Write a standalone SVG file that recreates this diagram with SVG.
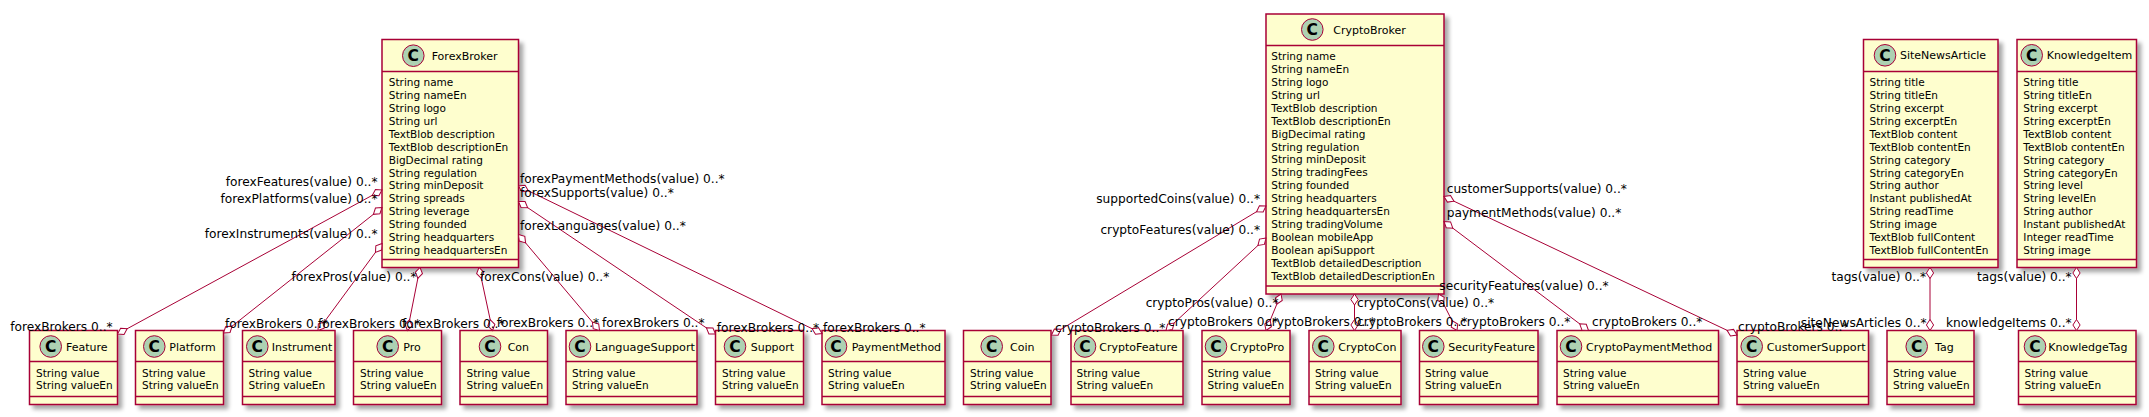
<svg xmlns="http://www.w3.org/2000/svg" width="2149" height="417" viewBox="0 0 2149 417">
<defs>
<style>
.box{fill:#FEFECE;stroke:#A80036;stroke-width:1.5;filter:url(#sh)}
.sep{stroke:#A80036;stroke-width:1.5}
.ci{fill:#ADD1B2;stroke:#A80036;stroke-width:1}
.cl{font-family:"DejaVu Sans",sans-serif;font-size:15.5px;font-weight:bold;text-anchor:middle;fill:#000}
.tt{font-family:"DejaVu Sans",sans-serif;font-size:11px;fill:#000}
.at{font-family:"DejaVu Sans",sans-serif;font-size:10.5px;fill:#000}
.lb{font-family:"DejaVu Sans",sans-serif;font-size:12.2px;fill:#000}
.e{text-anchor:end}
.cn{stroke:#A80036;stroke-width:1;fill:none;marker-start:url(#dia);marker-end:url(#dia)}
</style>
<filter id="sh" x="-10%" y="-10%" width="130%" height="130%">
<feGaussianBlur in="SourceAlpha" stdDeviation="2"/>
<feOffset dx="4" dy="4" result="o"/>
<feComponentTransfer><feFuncA type="linear" slope="0.35"/></feComponentTransfer>
<feMerge><feMergeNode/><feMergeNode in="SourceGraphic"/></feMerge>
</filter>
<marker id="dia" viewBox="-13 -5 14 10" refX="0" refY="0" markerWidth="14" markerHeight="10" markerUnits="userSpaceOnUse" orient="auto-start-reverse">
<path d="M0,0 L-5.5,-3.6 L-11,0 L-5.5,3.6 Z" fill="#fff" stroke="#A80036" stroke-width="1"/>
</marker>
</defs>
<rect width="2149" height="417" fill="#fff"/>

<g id="ForexBroker">
<rect class="box" x="382" y="39.5" width="136.5" height="228"/>
<circle class="ci" cx="413.3" cy="55.7" r="10.8"/><text class="cl" x="413.3" y="61.3">C</text>
<text class="tt" x="431.7" y="59.7">ForexBroker</text>
<line class="sep" x1="382" y1="71.5" x2="518.5" y2="71.5"/>
<line class="sep" x1="382" y1="259.5" x2="518.5" y2="259.5"/>
<text class="at" x="388.8" y="86"><tspan x="388.8">String name</tspan><tspan x="388.8" dy="12.93">String nameEn</tspan><tspan x="388.8" dy="12.93">String logo</tspan><tspan x="388.8" dy="12.93">String url</tspan><tspan x="388.8" dy="12.93">TextBlob description</tspan><tspan x="388.8" dy="12.93">TextBlob descriptionEn</tspan><tspan x="388.8" dy="12.93">BigDecimal rating</tspan><tspan x="388.8" dy="12.93">String regulation</tspan><tspan x="388.8" dy="12.93">String minDeposit</tspan><tspan x="388.8" dy="12.93">String spreads</tspan><tspan x="388.8" dy="12.93">String leverage</tspan><tspan x="388.8" dy="12.93">String founded</tspan><tspan x="388.8" dy="12.93">String headquarters</tspan><tspan x="388.8" dy="12.93">String headquartersEn</tspan></text>
</g>

<g id="CryptoBroker">
<rect class="box" x="1266" y="14" width="178" height="280"/>
<circle class="ci" cx="1312.3" cy="29.5" r="10.8"/><text class="cl" x="1312.3" y="35.1">C</text>
<text class="tt" x="1333.3" y="33.5">CryptoBroker</text>
<line class="sep" x1="1266" y1="45.5" x2="1444" y2="45.5"/>
<line class="sep" x1="1266" y1="286" x2="1444" y2="286"/>
<text class="at" x="1271.3" y="60"><tspan x="1271.3">String name</tspan><tspan x="1271.3" dy="12.93">String nameEn</tspan><tspan x="1271.3" dy="12.93">String logo</tspan><tspan x="1271.3" dy="12.93">String url</tspan><tspan x="1271.3" dy="12.93">TextBlob description</tspan><tspan x="1271.3" dy="12.93">TextBlob descriptionEn</tspan><tspan x="1271.3" dy="12.93">BigDecimal rating</tspan><tspan x="1271.3" dy="12.93">String regulation</tspan><tspan x="1271.3" dy="12.93">String minDeposit</tspan><tspan x="1271.3" dy="12.93">String tradingFees</tspan><tspan x="1271.3" dy="12.93">String founded</tspan><tspan x="1271.3" dy="12.93">String headquarters</tspan><tspan x="1271.3" dy="12.93">String headquartersEn</tspan><tspan x="1271.3" dy="12.93">String tradingVolume</tspan><tspan x="1271.3" dy="12.93">Boolean mobileApp</tspan><tspan x="1271.3" dy="12.93">Boolean apiSupport</tspan><tspan x="1271.3" dy="12.93">TextBlob detailedDescription</tspan><tspan x="1271.3" dy="12.93">TextBlob detailedDescriptionEn</tspan></text>
</g>

<g id="SiteNewsArticle">
<rect class="box" x="1863.5" y="39.5" width="134.5" height="228"/>
<circle class="ci" cx="1885" cy="55.3" r="10.8"/><text class="cl" x="1885" y="60.9">C</text>
<text class="tt" x="1900" y="59.3">SiteNewsArticle</text>
<line class="sep" x1="1863.5" y1="71.5" x2="1998" y2="71.5"/>
<line class="sep" x1="1863.5" y1="259.5" x2="1998" y2="259.5"/>
<text class="at" x="1869.5" y="86"><tspan x="1869.5">String title</tspan><tspan x="1869.5" dy="12.93">String titleEn</tspan><tspan x="1869.5" dy="12.93">String excerpt</tspan><tspan x="1869.5" dy="12.93">String excerptEn</tspan><tspan x="1869.5" dy="12.93">TextBlob content</tspan><tspan x="1869.5" dy="12.93">TextBlob contentEn</tspan><tspan x="1869.5" dy="12.93">String category</tspan><tspan x="1869.5" dy="12.93">String categoryEn</tspan><tspan x="1869.5" dy="12.93">String author</tspan><tspan x="1869.5" dy="12.93">Instant publishedAt</tspan><tspan x="1869.5" dy="12.93">String readTime</tspan><tspan x="1869.5" dy="12.93">String image</tspan><tspan x="1869.5" dy="12.93">TextBlob fullContent</tspan><tspan x="1869.5" dy="12.93">TextBlob fullContentEn</tspan></text>
</g>

<g id="KnowledgeItem">
<rect class="box" x="2017" y="39.5" width="119.5" height="228"/>
<circle class="ci" cx="2031.7" cy="55.3" r="10.8"/><text class="cl" x="2031.7" y="60.9">C</text>
<text class="tt" x="2046.7" y="59.3">KnowledgeItem</text>
<line class="sep" x1="2017" y1="71.5" x2="2136.5" y2="71.5"/>
<line class="sep" x1="2017" y1="259.5" x2="2136.5" y2="259.5"/>
<text class="at" x="2023.3" y="86"><tspan x="2023.3">String title</tspan><tspan x="2023.3" dy="12.93">String titleEn</tspan><tspan x="2023.3" dy="12.93">String excerpt</tspan><tspan x="2023.3" dy="12.93">String excerptEn</tspan><tspan x="2023.3" dy="12.93">TextBlob content</tspan><tspan x="2023.3" dy="12.93">TextBlob contentEn</tspan><tspan x="2023.3" dy="12.93">String category</tspan><tspan x="2023.3" dy="12.93">String categoryEn</tspan><tspan x="2023.3" dy="12.93">String level</tspan><tspan x="2023.3" dy="12.93">String levelEn</tspan><tspan x="2023.3" dy="12.93">String author</tspan><tspan x="2023.3" dy="12.93">Instant publishedAt</tspan><tspan x="2023.3" dy="12.93">Integer readTime</tspan><tspan x="2023.3" dy="12.93">String image</tspan></text>
</g>

<g id="Feature">
<rect class="box" x="29.5" y="330.5" width="88" height="74"/>
<circle class="ci" cx="50.7" cy="346.5" r="10.8"/><text class="cl" x="50.7" y="352.1">C</text>
<text class="tt" x="66" y="350.5">Feature</text>
<line class="sep" x1="29.5" y1="361.5" x2="117.5" y2="361.5"/><line class="sep" x1="29.5" y1="396.5" x2="117.5" y2="396.5"/>
<text class="at" x="36" y="376.5">String value<tspan x="36" dy="12.93">String valueEn</tspan></text>
</g>
<g id="Platform">
<rect class="box" x="135.5" y="330.5" width="88" height="74"/>
<circle class="ci" cx="154.3" cy="346.5" r="10.8"/><text class="cl" x="154.3" y="352.1">C</text>
<text class="tt" x="169.3" y="350.5">Platform</text>
<line class="sep" x1="135.5" y1="361.5" x2="223.5" y2="361.5"/><line class="sep" x1="135.5" y1="396.5" x2="223.5" y2="396.5"/>
<text class="at" x="142" y="376.5">String value<tspan x="142" dy="12.93">String valueEn</tspan></text>
</g>
<g id="Instrument">
<rect class="box" x="242.5" y="330.5" width="92.5" height="74"/>
<circle class="ci" cx="257.3" cy="346.5" r="10.8"/><text class="cl" x="257.3" y="352.1">C</text>
<text class="tt" x="271.7" y="350.5">Instrument</text>
<line class="sep" x1="242.5" y1="361.5" x2="335" y2="361.5"/><line class="sep" x1="242.5" y1="396.5" x2="335" y2="396.5"/>
<text class="at" x="248.5" y="376.5">String value<tspan x="248.5" dy="12.93">String valueEn</tspan></text>
</g>
<g id="Pro">
<rect class="box" x="353.5" y="330.5" width="88" height="74"/>
<circle class="ci" cx="387.7" cy="346.5" r="10.8"/><text class="cl" x="387.7" y="352.1">C</text>
<text class="tt" x="403.3" y="350.5">Pro</text>
<line class="sep" x1="353.5" y1="361.5" x2="441.5" y2="361.5"/><line class="sep" x1="353.5" y1="396.5" x2="441.5" y2="396.5"/>
<text class="at" x="360" y="376.5">String value<tspan x="360" dy="12.93">String valueEn</tspan></text>
</g>
<g id="Con">
<rect class="box" x="460" y="330.5" width="87.5" height="74"/>
<circle class="ci" cx="490" cy="346.5" r="10.8"/><text class="cl" x="490" y="352.1">C</text>
<text class="tt" x="507.7" y="350.5">Con</text>
<line class="sep" x1="460" y1="361.5" x2="547.5" y2="361.5"/><line class="sep" x1="460" y1="396.5" x2="547.5" y2="396.5"/>
<text class="at" x="466.5" y="376.5">String value<tspan x="466.5" dy="12.93">String valueEn</tspan></text>
</g>
<g id="LanguageSupport">
<rect class="box" x="566" y="330.5" width="131" height="74"/>
<circle class="ci" cx="580" cy="346.5" r="10.8"/><text class="cl" x="580" y="352.1">C</text>
<text class="tt" x="595" y="350.5" textLength="100" lengthAdjust="spacingAndGlyphs">LanguageSupport</text>
<line class="sep" x1="566" y1="361.5" x2="697" y2="361.5"/><line class="sep" x1="566" y1="396.5" x2="697" y2="396.5"/>
<text class="at" x="572" y="376.5">String value<tspan x="572" dy="12.93">String valueEn</tspan></text>
</g>
<g id="Support">
<rect class="box" x="715.5" y="330.5" width="88" height="74"/>
<circle class="ci" cx="735" cy="346.5" r="10.8"/><text class="cl" x="735" y="352.1">C</text>
<text class="tt" x="750.7" y="350.5">Support</text>
<line class="sep" x1="715.5" y1="361.5" x2="803.5" y2="361.5"/><line class="sep" x1="715.5" y1="396.5" x2="803.5" y2="396.5"/>
<text class="at" x="722" y="376.5">String value<tspan x="722" dy="12.93">String valueEn</tspan></text>
</g>
<g id="PaymentMethod">
<rect class="box" x="822" y="330.5" width="123" height="74"/>
<circle class="ci" cx="836" cy="346.5" r="10.8"/><text class="cl" x="836" y="352.1">C</text>
<text class="tt" x="851.7" y="350.5">PaymentMethod</text>
<line class="sep" x1="822" y1="361.5" x2="945" y2="361.5"/><line class="sep" x1="822" y1="396.5" x2="945" y2="396.5"/>
<text class="at" x="828" y="376.5">String value<tspan x="828" dy="12.93">String valueEn</tspan></text>
</g>
<g id="Coin">
<rect class="box" x="963.5" y="330.5" width="87.5" height="74"/>
<circle class="ci" cx="991.7" cy="346.5" r="10.8"/><text class="cl" x="991.7" y="352.1">C</text>
<text class="tt" x="1010" y="350.5">Coin</text>
<line class="sep" x1="963.5" y1="361.5" x2="1051" y2="361.5"/><line class="sep" x1="963.5" y1="396.5" x2="1051" y2="396.5"/>
<text class="at" x="970" y="376.5">String value<tspan x="970" dy="12.93">String valueEn</tspan></text>
</g>
<g id="CryptoFeature">
<rect class="box" x="1071" y="330.5" width="112" height="74"/>
<circle class="ci" cx="1085" cy="346.5" r="10.8"/><text class="cl" x="1085" y="352.1">C</text>
<text class="tt" x="1099.3" y="350.5">CryptoFeature</text>
<line class="sep" x1="1071" y1="361.5" x2="1183" y2="361.5"/><line class="sep" x1="1071" y1="396.5" x2="1183" y2="396.5"/>
<text class="at" x="1076.5" y="376.5">String value<tspan x="1076.5" dy="12.93">String valueEn</tspan></text>
</g>
<g id="CryptoPro">
<rect class="box" x="1202" y="330.5" width="88" height="74"/>
<circle class="ci" cx="1216" cy="346.5" r="10.8"/><text class="cl" x="1216" y="352.1">C</text>
<text class="tt" x="1230" y="350.5">CryptoPro</text>
<line class="sep" x1="1202" y1="361.5" x2="1290" y2="361.5"/><line class="sep" x1="1202" y1="396.5" x2="1290" y2="396.5"/>
<text class="at" x="1207.5" y="376.5">String value<tspan x="1207.5" dy="12.93">String valueEn</tspan></text>
</g>
<g id="CryptoCon">
<rect class="box" x="1309" y="330.5" width="92" height="74"/>
<circle class="ci" cx="1323.3" cy="346.5" r="10.8"/><text class="cl" x="1323.3" y="352.1">C</text>
<text class="tt" x="1338.3" y="350.5">CryptoCon</text>
<line class="sep" x1="1309" y1="361.5" x2="1401" y2="361.5"/><line class="sep" x1="1309" y1="396.5" x2="1401" y2="396.5"/>
<text class="at" x="1315" y="376.5">String value<tspan x="1315" dy="12.93">String valueEn</tspan></text>
</g>
<g id="SecurityFeature">
<rect class="box" x="1419.5" y="330.5" width="118.5" height="74"/>
<circle class="ci" cx="1433.3" cy="346.5" r="10.8"/><text class="cl" x="1433.3" y="352.1">C</text>
<text class="tt" x="1448.3" y="350.5">SecurityFeature</text>
<line class="sep" x1="1419.5" y1="361.5" x2="1538" y2="361.5"/><line class="sep" x1="1419.5" y1="396.5" x2="1538" y2="396.5"/>
<text class="at" x="1425" y="376.5">String value<tspan x="1425" dy="12.93">String valueEn</tspan></text>
</g>
<g id="CryptoPaymentMethod">
<rect class="box" x="1557" y="330.5" width="161.5" height="74"/>
<circle class="ci" cx="1571" cy="346.5" r="10.8"/><text class="cl" x="1571" y="352.1">C</text>
<text class="tt" x="1586" y="350.5">CryptoPaymentMethod</text>
<line class="sep" x1="1557" y1="361.5" x2="1718.5" y2="361.5"/><line class="sep" x1="1557" y1="396.5" x2="1718.5" y2="396.5"/>
<text class="at" x="1563" y="376.5">String value<tspan x="1563" dy="12.93">String valueEn</tspan></text>
</g>
<g id="CustomerSupport">
<rect class="box" x="1737" y="330.5" width="131.5" height="74"/>
<circle class="ci" cx="1751.7" cy="346.5" r="10.8"/><text class="cl" x="1751.7" y="352.1">C</text>
<text class="tt" x="1766.7" y="350.5" textLength="99" lengthAdjust="spacingAndGlyphs">CustomerSupport</text>
<line class="sep" x1="1737" y1="361.5" x2="1868.5" y2="361.5"/><line class="sep" x1="1737" y1="396.5" x2="1868.5" y2="396.5"/>
<text class="at" x="1743" y="376.5">String value<tspan x="1743" dy="12.93">String valueEn</tspan></text>
</g>
<g id="Tag">
<rect class="box" x="1887" y="330.5" width="87" height="74"/>
<circle class="ci" cx="1916.7" cy="346.5" r="10.8"/><text class="cl" x="1916.7" y="352.1">C</text>
<text class="tt" x="1935" y="350.5">Tag</text>
<line class="sep" x1="1887" y1="361.5" x2="1974" y2="361.5"/><line class="sep" x1="1887" y1="396.5" x2="1974" y2="396.5"/>
<text class="at" x="1893" y="376.5">String value<tspan x="1893" dy="12.93">String valueEn</tspan></text>
</g>
<g id="KnowledgeTag">
<rect class="box" x="2018.5" y="330.5" width="117.5" height="74"/>
<circle class="ci" cx="2035" cy="346.5" r="10.8"/><text class="cl" x="2035" y="352.1">C</text>
<text class="tt" x="2048.3" y="350.5">KnowledgeTag</text>
<line class="sep" x1="2018.5" y1="361.5" x2="2136" y2="361.5"/><line class="sep" x1="2018.5" y1="396.5" x2="2136" y2="396.5"/>
<text class="at" x="2024.5" y="376.5">String value<tspan x="2024.5" dy="12.93">String valueEn</tspan></text>
</g>

<g id="connectors">
<line class="cn" x1="382" y1="190" x2="117.5" y2="334"/>
<line class="cn" x1="382" y1="207.5" x2="223.5" y2="333"/>
<line class="cn" x1="382" y1="243.5" x2="318" y2="330.5"/>
<line class="cn" x1="420" y1="267.5" x2="407.5" y2="330.5"/>
<line class="cn" x1="479" y1="267.5" x2="492.5" y2="330.5"/>
<line class="cn" x1="518.5" y1="234.5" x2="599.5" y2="330.5"/>
<line class="cn" x1="518.5" y1="201.5" x2="715.5" y2="334"/>
<line class="cn" x1="518.5" y1="186" x2="822" y2="333.5"/>
<line class="cn" x1="1266" y1="206" x2="1051.5" y2="335"/>
<line class="cn" x1="1266" y1="238" x2="1166" y2="330.5"/>
<line class="cn" x1="1281" y1="294" x2="1266" y2="330.5"/>
<line class="cn" x1="1354.5" y1="294" x2="1354.5" y2="330.5"/>
<line class="cn" x1="1438.5" y1="294" x2="1457" y2="330.5"/>
<line class="cn" x1="1444" y1="221.5" x2="1588.5" y2="330.5"/>
<line class="cn" x1="1444" y1="196.5" x2="1737" y2="335"/>
<line class="cn" x1="1930" y1="267.5" x2="1930" y2="330.5"/>
<line class="cn" x1="2076.5" y1="267.5" x2="2076.5" y2="330.5"/>

<text class="lb e" x="377.5" y="185.5">forexFeatures(value) 0..*</text>
<text class="lb e" x="377.5" y="202.5">forexPlatforms(value) 0..*</text>
<text class="lb e" x="377.5" y="238.3">forexInstruments(value) 0..*</text>
<text class="lb e" x="416.5" y="281">forexPros(value) 0..*</text>
<text class="lb" x="480" y="281">forexCons(value) 0..*</text>
<text class="lb" x="520" y="183.3">forexPaymentMethods(value) 0..*</text>
<text class="lb" x="520" y="197.3">forexSupports(value) 0..*</text>
<text class="lb" x="520" y="230">forexLanguages(value) 0..*</text>
<text class="lb e" x="112.7" y="331">forexBrokers 0..*</text>
<text class="lb" x="225" y="327.7">forexBrokers 0..*</text>
<text class="lb" x="318" y="327.7">forexBrokers 0..*</text>
<text class="lb" x="402" y="327.7">forexBrokers 0..*</text>
<text class="lb" x="496.7" y="327">forexBrokers 0..*</text>
<text class="lb" x="602" y="327">forexBrokers 0..*</text>
<text class="lb" x="716.7" y="332">forexBrokers 0..*</text>
<text class="lb" x="823" y="331.5">forexBrokers 0..*</text>

<text class="lb e" x="1260" y="202.7">supportedCoins(value) 0..*</text>
<text class="lb e" x="1260" y="234.3">cryptoFeatures(value) 0..*</text>
<text class="lb e" x="1278.5" y="306.5">cryptoPros(value) 0..*</text>
<text class="lb" x="1357" y="306.5">cryptoCons(value) 0..*</text>
<text class="lb" x="1439.3" y="290">securityFeatures(value) 0..*</text>
<text class="lb" x="1446.7" y="192.5">customerSupports(value) 0..*</text>
<text class="lb" x="1446.7" y="217">paymentMethods(value) 0..*</text>
<text class="lb" x="1055" y="331.5">cryptoBrokers 0..*</text>
<text class="lb" x="1168" y="326">cryptoBrokers 0..*</text>
<text class="lb" x="1265" y="326">cryptoBrokers 0..*</text>
<text class="lb" x="1357" y="326">cryptoBrokers 0..*</text>
<text class="lb" x="1460" y="326">cryptoBrokers 0..*</text>
<text class="lb" x="1592" y="326">cryptoBrokers 0..*</text>
<text class="lb" x="1738" y="330.5">cryptoBrokers 0..*</text>

<text class="lb e" x="1926" y="280.7">tags(value) 0..*</text>
<text class="lb e" x="2071.7" y="280.7">tags(value) 0..*</text>
<text class="lb e" x="1926.7" y="326.5">siteNewsArticles 0..*</text>
<text class="lb e" x="2071.7" y="326.5">knowledgeItems 0..*</text>
</g>
</svg>
